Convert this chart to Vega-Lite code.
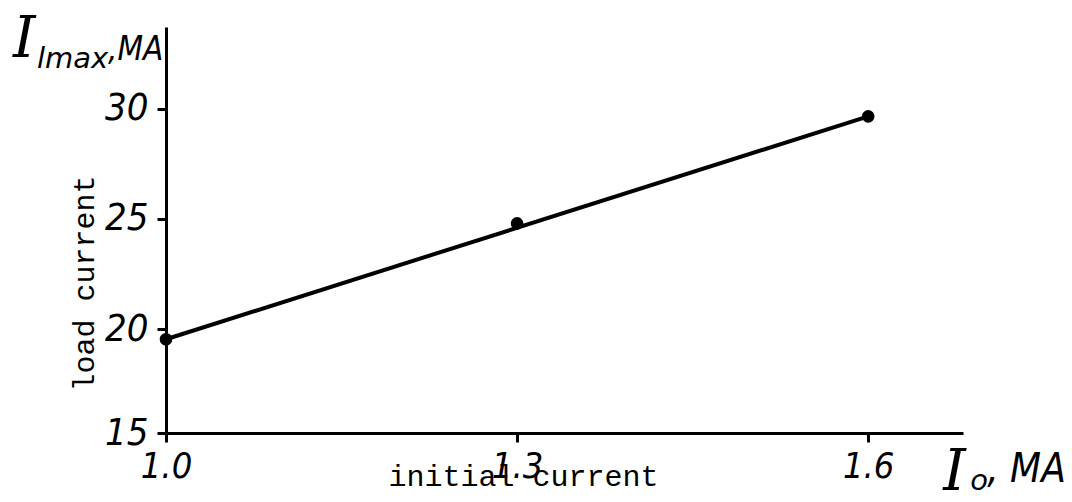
{
  "$schema": "https://vega.github.io/schema/vega-lite/v6.json",
  "width": 797,
  "height": 406,
  "autosize": "none",
  "padding": {"left": 166, "top": 27, "right": 109, "bottom": 69},
  "background": "white",
  "config": {"view": {"stroke": null}},
  "datasets": {
    "points": [
      {"I0": 1.0, "I1": 19.55},
      {"I0": 1.3, "I1": 24.8},
      {"I0": 1.6, "I1": 29.65}
    ],
    "fit": [
      {"I0": 1.0, "I1": 19.55},
      {"I0": 1.6, "I1": 29.65}
    ],
    "bigI": [
      {"x": 0.8692, "y": 32.34, "t": "I"},
      {"x": 1.6641, "y": 12.72, "t": "I"}
    ],
    "subs": [
      {"x": 0.8897, "y": 31.84, "t": "lmax"},
      {"x": 1.6872, "y": 12.72, "t": "o"}
    ],
    "unitsTop": [
      {"x": 0.9504, "y": 32.2, "t": ",MA"}
    ],
    "unitsBottom": [
      {"x": 1.7017, "y": 13.08, "t": ", MA"}
    ]
  },
  "layer": [
    {
      "data": {"name": "fit"},
      "mark": {"type": "line", "color": "black", "strokeWidth": 4},
      "encoding": {
        "x": {
          "field": "I0", "type": "quantitative",
          "scale": {"domain": [1.0, 1.681], "nice": false, "zero": false},
          "axis": {
            "values": [1.0, 1.3, 1.6], "format": ".1f",
            "domainColor": "black", "domainWidth": 3,
            "tickColor": "black", "tickWidth": 3, "tickSize": 9,
            "labelFont": "'DejaVu Sans Condensed', 'Liberation Sans Narrow', 'DejaVu Sans'",
            "labelFontStyle": "italic", "labelFontSize": 36, "labelColor": "black",
            "labelPadding": 7, "labelFlush": false, "labelOverlap": false,
            "grid": false,
            "title": "initial current",
            "titleFont": "Liberation Mono", "titleFontSize": 30, "titleFontWeight": "normal",
            "titleColor": "black", "titleX": 222, "titleY": 52,
            "titleAlign": "left", "titleBaseline": "alphabetic"
          }
        },
        "y": {
          "field": "I1", "type": "quantitative",
          "scale": {"domain": [15.3, 33.7], "nice": false, "zero": false},
          "axis": {
            "values": [15.3, 20, 25, 30],
            "labelExpr": "datum.value < 16 ? '15' : format(datum.value, 'd')",
            "domainColor": "black", "domainWidth": 3,
            "tickColor": "black", "tickWidth": 3, "tickSize": 9,
            "labelFont": "'DejaVu Sans Condensed', 'Liberation Sans Narrow', 'DejaVu Sans'",
            "labelFontStyle": "italic", "labelFontSize": 38, "labelColor": "black",
            "labelPadding": 9, "labelOverlap": false, "labelFlush": false,
            "grid": false,
            "title": "load current",
            "titleFont": "Liberation Mono", "titleFontSize": 30, "titleFontWeight": "normal",
            "titleColor": "black", "titleX": -73, "titleY": 256,
            "titleAlign": "center", "titleBaseline": "alphabetic", "titleAngle": 270
          }
        }
      }
    },
    {
      "data": {"name": "points"},
      "mark": {"type": "point", "filled": true, "color": "black", "opacity": 1, "size": 160},
      "encoding": {
        "x": {"field": "I0", "type": "quantitative"},
        "y": {"field": "I1", "type": "quantitative"}
      }
    },
    {
      "data": {"name": "bigI"},
      "mark": {"type": "text", "font": "DejaVu Serif", "fontStyle": "italic", "fontSize": 57, "align": "left", "baseline": "alphabetic", "color": "black"},
      "encoding": {
        "x": {"field": "x", "type": "quantitative"},
        "y": {"field": "y", "type": "quantitative"},
        "text": {"field": "t"}
      }
    },
    {
      "data": {"name": "subs"},
      "mark": {"type": "text", "font": "DejaVu Sans", "fontStyle": "italic", "fontSize": 29, "align": "left", "baseline": "alphabetic", "color": "black"},
      "encoding": {
        "x": {"field": "x", "type": "quantitative"},
        "y": {"field": "y", "type": "quantitative"},
        "text": {"field": "t"}
      }
    },
    {
      "data": {"name": "unitsTop"},
      "mark": {"type": "text", "font": "'Liberation Sans Narrow', 'DejaVu Sans Condensed', 'DejaVu Sans'", "fontStyle": "italic", "fontSize": 33, "align": "left", "baseline": "alphabetic", "color": "black"},
      "encoding": {
        "x": {"field": "x", "type": "quantitative"},
        "y": {"field": "y", "type": "quantitative"},
        "text": {"field": "t"}
      }
    },
    {
      "data": {"name": "unitsBottom"},
      "mark": {"type": "text", "font": "'Liberation Sans Narrow', 'DejaVu Sans Condensed', 'DejaVu Sans'", "fontStyle": "italic", "fontSize": 40, "align": "left", "baseline": "alphabetic", "color": "black"},
      "encoding": {
        "x": {"field": "x", "type": "quantitative"},
        "y": {"field": "y", "type": "quantitative"},
        "text": {"field": "t"}
      }
    }
  ]
}
